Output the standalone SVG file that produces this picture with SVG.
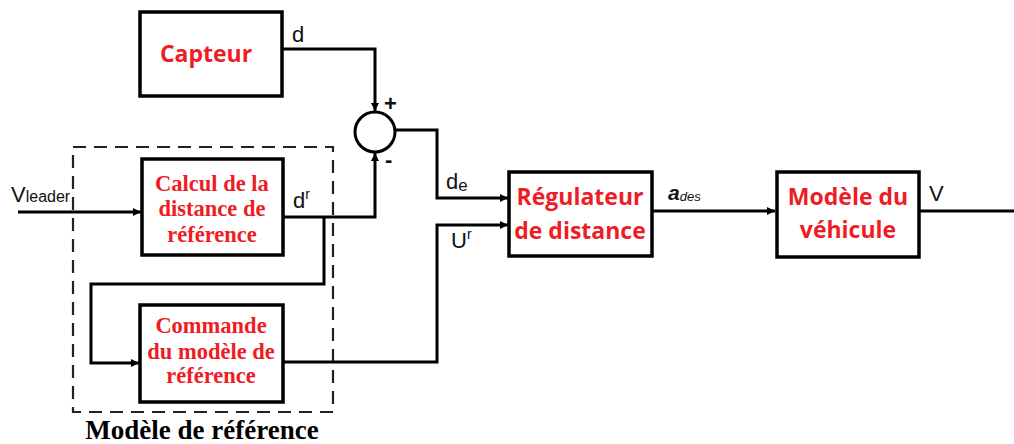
<svg xmlns="http://www.w3.org/2000/svg" width="1014" height="444" viewBox="0 0 1014 444">
<style>
.box{fill:#fff;stroke:#000;stroke-width:3.5}
.ln{fill:none;stroke:#000;stroke-width:3}
.lbl{font-family:"Liberation Sans",Arial,sans-serif;font-size:22px;fill:#111}
.rs{font-family:"Open Sans","Liberation Sans",sans-serif;font-weight:bold;font-size:23px;fill:#ee1c25;text-anchor:middle}
.rt{font-family:"Liberation Serif","Times New Roman",serif;font-weight:bold;font-size:22.5px;fill:#ee1c25;text-anchor:middle}
</style>
<defs>
<marker id="ar" viewBox="0 0 10 10" refX="10" refY="5" markerWidth="9" markerHeight="8" markerUnits="userSpaceOnUse" orient="auto">
<path d="M0,0 L10,5 L0,10 z" fill="#000"/>
</marker>
</defs>
<rect width="1014" height="444" fill="#fff"/>
<g id="ref-model-frame">
<rect x="73" y="147" width="260" height="265" fill="none" stroke="#222" stroke-width="2.2" stroke-dasharray="13,8"/>
<text x="202" y="439" text-anchor="middle" font-family="Liberation Serif,Times New Roman,serif" font-weight="bold" font-size="27" fill="#000">Modèle de référence</text>
</g>
<g id="connectors">
<path class="ln" d="M282,49 H375 V111" marker-end="url(#ar)"/>
<path class="ln" d="M18,212 H141" marker-end="url(#ar)"/>
<path class="ln" d="M283,217 H375 V153" marker-end="url(#ar)"/>
<path class="ln" d="M324,217 V284 H91 V363 H139" marker-end="url(#ar)"/>
<path class="ln" d="M283,362 H437 V225 H508" marker-end="url(#ar)"/>
<path class="ln" d="M395,130 H437 V198 H508" marker-end="url(#ar)"/>
<path class="ln" d="M652,211 H775" marker-end="url(#ar)"/>
<path class="ln" d="M919,211 H1014"/>
</g>
<g id="labels">
<text class="lbl" x="292" y="42">d</text>
<text x="384" y="111" font-family="Liberation Sans,Arial,sans-serif" font-weight="bold" font-size="22" fill="#111">+</text>
<text x="385" y="167" font-family="Liberation Sans,Arial,sans-serif" font-weight="bold" font-size="22" fill="#111">-</text>
<text class="lbl" x="11" y="202" font-size="24">V<tspan font-size="16">leader</tspan></text>
<text class="lbl" x="293" y="208">d<tspan font-size="14" dy="-9">r</tspan></text>
<text class="lbl" x="446" y="189">d<tspan font-size="17" dy="2">e</tspan></text>
<text class="lbl" x="451" y="248">U<tspan font-size="14" dy="-9">r</tspan></text>
<text x="668" y="200" font-family="Liberation Sans,Arial,sans-serif" font-weight="bold" font-style="italic" font-size="21" fill="#111">a<tspan font-size="13" font-weight="normal" dy="1">des</tspan></text>
<text class="lbl" x="929" y="201" font-size="23">V</text>
</g>
<g id="capteur">
<rect class="box" x="140" y="12" width="142" height="84"/>
<text class="rs" x="206" y="62">Capteur</text>
</g>
<g id="sum">
<circle cx="375" cy="132" r="20" fill="#fff" stroke="#000" stroke-width="3"/>
</g>
<g id="calcul">
<rect class="box" x="142" y="159" width="141" height="96"/>
<text class="rt" x="212" y="191">Calcul de la</text>
<text class="rt" x="212" y="216">distance de</text>
<text class="rt" x="212" y="242">référence</text>
</g>
<g id="commande">
<rect class="box" x="140" y="305" width="143" height="97"/>
<text class="rt" x="211" y="333">Commande</text>
<text class="rt" x="211" y="359">du modèle de</text>
<text class="rt" x="211" y="383">référence</text>
</g>
<g id="regulateur">
<rect class="box" x="509" y="172" width="143" height="84"/>
<text class="rs" x="580" y="205">Régulateur</text>
<text class="rs" x="580" y="239">de distance</text>
</g>
<g id="vehicule">
<rect class="box" x="777" y="172" width="142" height="85"/>
<text class="rs" x="848" y="205">Modèle du</text>
<text class="rs" x="848" y="238">véhicule</text>
</g>
</svg>
